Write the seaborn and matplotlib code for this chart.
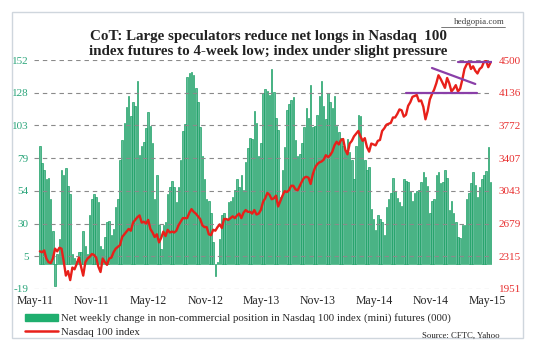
import numpy as np
import pandas as pd
import seaborn as sns
import matplotlib
matplotlib.use("Agg")
import matplotlib.pyplot as plt
import matplotlib.dates as mdates
from matplotlib.patches import Rectangle, Patch
from matplotlib.lines import Line2D

# weekly net change in non-commercial position (000), May-2011 .. May-2015
net_2011_12 = [88, 75, 70, 63, 64, 48, 24, -17, 7, 18, 70, 66, 71, 58, 52, 7, 4, 2, 9, 9,
               24, 13, 7, 36, 48, 52, 50, 46, 13, 11, 20, 31, 32, 21, 26, 42, 48, 77, 92, 105,
               117, 125, 110, 121, 118, 136, 81, 88, 91, 101, 113, 103, 90, 48, 66, 29, 11, 29,
               31, 52, 57, 62, 57, 46, 57, 77, 99, 104]
net_2012_14 = [139, 142, 143, 141, 131, 121, 102, 80, 63, 48, 47, 38, 16, -9, 1, 18, 36, 38,
               33, 46, 47, 50, 55, 63, 57, 66, 55, 76, 86, 94, 93, 114, 105, 80, 90, 127, 130,
               129, 126, 145, 128, 109, 100, 50, 70, 87, 115, 119, 122, 124, 92, 80, 82, 90,
               102, 116, 109, 133, 102, 103, 111, 125, 136, 118, 108, 127, 121, 116, 125, 103]
net_2014_15 = [98, 94, 88, 85, 93, 83, 77, 63, 88, 111, 110, 92, 77, 70, 72, 41, 33, 25, 36,
               33, 31, 21, 42, 48, 53, 64, 54, 49, 46, 43, 63, 62, 61, 54, 47, 53, 54, 55, 61,
               68, 65, 58, 38, 47, 48, 66, 68, 60, 61, 70, 64, 40, 47, 38, 31, 20, 19, 29, 29,
               48, 53, 60, 68, 59, 50, 57, 63, 66, 69, 87, 61]
net_change = net_2011_12 + net_2012_14 + net_2014_15

# Nasdaq 100 weekly close
ndx_2011 = [2370, 2360, 2380, 2290, 2250, 2240, 2290, 2400, 2370, 2410, 2400, 2260, 2100,
            2150, 2050, 2190, 2170, 2230, 2300, 2200, 2100, 2250, 2290, 2310, 2340, 2330,
            2300, 2200, 2140, 2290, 2250, 2220, 2290]
ndx_2012 = [2300, 2360, 2400, 2420, 2440, 2530, 2560, 2590, 2620, 2600, 2690, 2720, 2750,
            2770, 2690, 2700, 2680, 2720, 2620, 2580, 2530, 2560, 2470, 2520, 2590, 2540,
            2610, 2580, 2590, 2580, 2600, 2660, 2700, 2740, 2740, 2740, 2800, 2840, 2810,
            2790, 2760, 2730, 2660, 2640, 2640, 2560, 2550, 2610, 2600, 2640, 2670, 2630]
ndx_2013 = [2730, 2730, 2720, 2740, 2760, 2740, 2770, 2790, 2740, 2800, 2830, 2810, 2810,
            2790, 2830, 2780, 2790, 2830, 2920, 2960, 3020, 3000, 2950, 2960, 2990, 2870,
            2930, 2990, 3040, 3030, 3050, 3100, 3100, 3060, 3050, 3100, 3150, 3190, 3200,
            3190, 3120, 3230, 3300, 3340, 3360, 3370, 3390, 3440, 3420, 3440, 3480, 3550, 3590]
ndx_2014 = [3560, 3610, 3620, 3500, 3450, 3570, 3600, 3650, 3680, 3710, 3650, 3600, 3630,
            3530, 3480, 3570, 3560, 3550, 3600, 3610, 3710, 3740, 3780, 3790, 3800, 3860,
            3860, 3900, 3950, 3940, 3870, 3890, 3990, 4030, 4090, 4100, 4110, 4040, 4050,
            3980, 3840, 3930, 4060, 4120, 4170, 4240, 4330, 4290, 4240, 4190, 4300, 4240]
ndx_2015 = [4150, 4180, 4220, 4150, 4180, 4280, 4400, 4450, 4480, 4400, 4430, 4380, 4350,
            4400, 4420, 4480, 4490, 4420, 4470]
ndx = ndx_2011 + ndx_2012 + ndx_2013 + ndx_2014 + ndx_2015

weeks = pd.date_range(end="2015-05-12", periods=len(net_change), freq="7D")
df = pd.DataFrame({"week": mdates.date2num(weeks), "net": net_change, "ndx": ndx})

left_ticks = ["-19", "5", "30", "54", "79", "103", "128", "152"]
right_ticks = ["1951", "2315", "2679", "3043", "3407", "3772", "4136", "4500"]

# purple pattern lines drawn on the index
support_x = ["2014-08-12", "2015-03-31"]
support_y = [4136, 4136]
falling_x = ["2014-11-04", "2015-03-24"]
falling_y = [4411, 4233]
top_x = ["2015-01-27", "2015-05-26"]
top_y = [4480, 4480]

sns.set_style("white")
plt.rcParams["font.family"] = ["Liberation Serif", "DejaVu Serif"]

fig = plt.figure(figsize=(5.37, 3.51), dpi=100)
fig.patches.append(Rectangle((12 / 537, 1 - 338 / 351), 511 / 537, 326 / 351,
                             transform=fig.transFigure, fill=False,
                             edgecolor="#cfd6dd", lw=1.0))
ax = fig.add_axes([34 / 537, 1 - 289 / 351, 458 / 537, 229 / 351])

sns.barplot(data=df, x="week", y="net", native_scale=True, width=0.7,
            color="#52cc9b", edgecolor="#0f9a5c", linewidth=0.45, ax=ax)
ax.set_ylim(-19, 152)
ax.set_yticks(np.linspace(-19, 152, 8))
ax.set_yticklabels(left_ticks, color="#2aa57a", fontsize=8)
ax.set_xlim(mdates.date2num(pd.Timestamp("2011-04-28")),
            mdates.date2num(pd.Timestamp("2015-05-17")))
ax.xaxis.set_major_locator(mdates.MonthLocator(bymonth=[5, 11]))
ax.xaxis.set_major_formatter(mdates.DateFormatter("%b-%y"))
ax.tick_params(axis="x", labelsize=8.5, pad=4, length=0)
ax.tick_params(axis="y", pad=4, length=0)
ax.set_xlabel("")
ax.set_ylabel("")
ax.grid(axis="y", linestyle=(0, (4, 3.5)), color="#8a8a8a", lw=0.8)
ax.set_axisbelow(False)
for s in ax.spines.values():
    s.set_visible(False)

ax2 = ax.twinx()
sns.lineplot(data=df, x="week", y="ndx", color="#e8201a", lw=1.7, ax=ax2)
for xs, ys in [(support_x, support_y), (falling_x, falling_y), (top_x, top_y)]:
    sns.lineplot(x=mdates.date2num(pd.to_datetime(xs)), y=ys, color="#8a3fa8",
                 lw=1.6, ax=ax2)
ax2.set_ylim(1951, 4500)
ax2.set_yticks(np.linspace(1951, 4500, 8))
ax2.set_yticklabels(right_ticks, color="#e83030", fontsize=8)
ax2.tick_params(axis="y", pad=5, length=0)
ax2.set_ylabel("")
ax2.set_xlabel("")
ax2.grid(False)
for s in ax2.spines.values():
    s.set_visible(False)

fig.text(0.5, 1 - 44 / 351,
         "CoT: Large speculators reduce net longs in Nasdaq  100\n"
         "index futures to 4-week low; index under slight pressure",
         ha="center", va="center", fontsize=10.8, fontweight="bold",
         linespacing=1.25, color="#222222")
fig.text(505 / 537, 1 - 22 / 351, "hedgopia.com", ha="right", va="center",
         fontsize=6.5, color="#444444")
fig.add_artist(Line2D([441 / 537, 505 / 537], [1 - 27 / 351, 1 - 27 / 351],
                      color="#444444", lw=0.5))

handles = [Patch(facecolor="#1fae6e", edgecolor="#1fae6e"),
           Line2D([], [], color="#e8201a", lw=1.8)]
labels = ["Net weekly change in non-commercial position in Nasdaq 100 index (mini) futures (000)",
          "Nasdaq 100 index"]
fig.legend(handles, labels, loc="upper left", bbox_to_anchor=(20 / 537, 1 - 308 / 351),
           frameon=False, fontsize=7.8, handlelength=3.0, handleheight=0.7,
           labelspacing=0.35, borderpad=0, handletextpad=0.3)
fig.text(500 / 537, 1 - 336 / 351, "Source: CFTC, Yahoo", ha="right", va="center",
         fontsize=6.3, color="#222222")

fig.savefig("out.png", dpi=100)
